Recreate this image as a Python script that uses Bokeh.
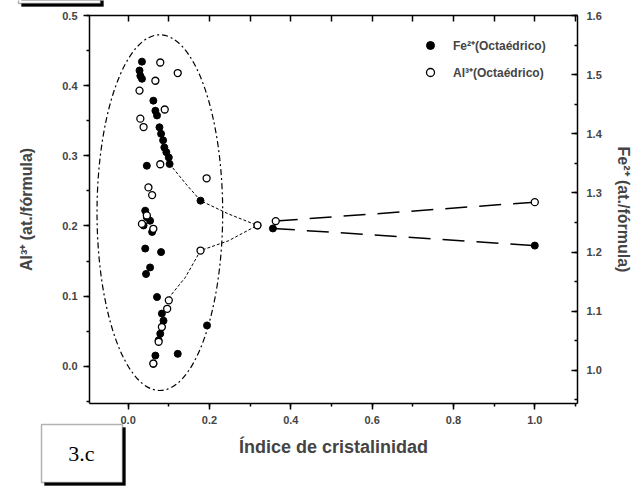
from bokeh.plotting import figure
from bokeh.models import (Range1d, LinearAxis, Label, Legend, LegendItem,
                          BoxAnnotation, SingleIntervalTicker,
                          NumeralTickFormatter)
from bokeh.embed import file_html
from bokeh.resources import INLINE

# Fe2+ (right axis) against crystallinity index
fe_x = [0.034, 0.028, 0.030, 0.034, 0.062, 0.067, 0.071, 0.077, 0.081, 0.086,
        0.089, 0.094, 0.100, 0.102, 0.046, 0.178, 0.042, 0.046, 0.054, 0.038,
        0.059, 0.042, 0.081, 0.054, 0.044, 0.071, 0.083, 0.087, 0.079, 0.075,
        0.067, 0.062, 0.122, 0.194, 0.318, 0.356, 1.000]
fe_y = [1.522, 1.507, 1.498, 1.493, 1.456, 1.439, 1.431, 1.411, 1.400, 1.389,
        1.377, 1.369, 1.360, 1.349, 1.346, 1.287, 1.270, 1.259, 1.253, 1.245,
        1.234, 1.206, 1.200, 1.174, 1.163, 1.124, 1.096, 1.084, 1.062, 1.051,
        1.025, 1.011, 1.028, 1.076, 1.245, 1.240, 1.211]

# Al3+ (left axis) against crystallinity index
al_x = [0.079, 0.122, 0.067, 0.028, 0.090, 0.030, 0.038, 0.079, 0.193, 0.050,
        0.059, 0.046, 0.034, 0.062, 0.100, 0.096, 0.083, 0.075, 0.062, 0.178,
        0.318, 0.363, 1.000]
al_y = [0.433, 0.418, 0.407, 0.393, 0.366, 0.353, 0.341, 0.288, 0.268, 0.255,
        0.244, 0.215, 0.203, 0.196, 0.094, 0.082, 0.056, 0.035, 0.004, 0.165,
        0.201, 0.207, 0.234]

# trend curves out of the cluster
fe_trend_x = [0.102, 0.141, 0.178, 0.245, 0.318]
fe_trend_y = [1.349, 1.316, 1.287, 1.265, 1.245]
al_trend_x = [0.099, 0.141, 0.178, 0.247, 0.318]
al_trend_y = [0.097, 0.127, 0.165, 0.179, 0.201]

# dashed tails towards the most crystalline sample
fe_tail_x = [0.356, 1.000]
fe_tail_y = [1.240, 1.211]
al_tail_x = [0.363, 1.000]
al_tail_y = [0.207, 0.234]

# ellipse enclosing the poorly crystalline cluster (left-axis units)
cluster_x, cluster_y = [0.078], [0.219]
cluster_w, cluster_h = [0.309], [0.507]

# axis extents
x_lo, x_hi = -0.095, 1.105
al_lo, al_hi = -0.053, 0.5
fe_lo, fe_hi = 0.944, 1.6

FONT = "Liberation Sans"
W, H = 640, 488
# box of the axes inside the canvas (pixels): left, right, top, bottom
BL, BR, BT, BB = 89, 577, 15, 403

def widen(lo, hi, before, after, span):
    per_px = (hi - lo) / span
    return lo - before * per_px, hi + after * per_px

# the frame fills the canvas; the axes sit at fixed data locations so the
# tag boxes outside the axes can be drawn with ordinary annotations
x_range = Range1d(*widen(x_lo, x_hi, BL, W - BR, BR - BL))
al_range = Range1d(*widen(al_lo, al_hi, H - BB, BT, BB - BT))
fe_range = Range1d(*widen(fe_lo, fe_hi, H - BB, BT, BB - BT))

p = figure(width=W, height=H, output_backend="svg", toolbar_location=None,
           x_range=x_range, y_range=al_range, min_border=0,
           title_location=None)
p.extra_y_ranges = {"fe": fe_range}
p.xaxis.visible = False
p.yaxis.visible = False
p.xgrid.visible = False
p.ygrid.visible = False
p.outline_line_color = None
p.background_fill_color = "white"
p.border_fill_color = "white"

def style(ax, label_size):
    ax.axis_line_width = 1.5
    ax.axis_line_color = "black"
    ax.major_tick_line_width = 1.5
    ax.minor_tick_line_width = 1.5
    ax.major_label_text_font = FONT
    ax.major_label_text_font_size = "11px"
    ax.major_label_text_font_style = "bold"
    ax.axis_label_text_font = FONT
    ax.axis_label_text_font_size = label_size
    ax.axis_label_text_font_style = "bold"

xa = LinearAxis(fixed_location=al_lo, bounds=(x_lo, x_hi),
                ticker=SingleIntervalTicker(interval=0.2, num_minor_ticks=2),
                formatter=NumeralTickFormatter(format="0.0"),
                axis_label="Índice de cristalinidad",
                major_tick_out=6, major_tick_in=0,
                minor_tick_out=3, minor_tick_in=0)
style(xa, "18px")
xa.major_label_standoff = 6
xa.axis_label_standoff = 10
p.add_layout(xa, "below")

ya = LinearAxis(fixed_location=x_lo, bounds=(al_lo, al_hi),
                ticker=SingleIntervalTicker(interval=0.1, num_minor_ticks=2),
                formatter=NumeralTickFormatter(format="0.0"),
                axis_label="Al³⁺ (at./fórmula)",
                major_tick_out=6, major_tick_in=0,
                minor_tick_out=3, minor_tick_in=0)
style(ya, "16px")
ya.major_label_standoff = 6
ya.axis_label_standoff = 24
p.add_layout(ya, "left")

# top edge: a downward-facing axis pinned at the upper bound, tick marks only
top = LinearAxis(fixed_location=al_hi, bounds=(x_lo, x_hi),
                 ticker=SingleIntervalTicker(interval=0.1, num_minor_ticks=0),
                 major_tick_in=0, major_tick_out=6,
                 minor_tick_in=0, minor_tick_out=0)
style(top, "11px")
top.major_label_text_color = None
p.add_layout(top, "below")

right = LinearAxis(fixed_location=x_hi, bounds=(fe_lo, fe_hi),
                   y_range_name="fe",
                   ticker=SingleIntervalTicker(interval=0.1, num_minor_ticks=2),
                   formatter=NumeralTickFormatter(format="0.0"),
                   axis_label="Fe²⁺ (at./fórmula)",
                   major_tick_in=6, major_tick_out=0,
                   minor_tick_in=3, minor_tick_out=0)
style(right, "16px")
right.major_label_standoff = 9
right.axis_label_standoff = 10
p.add_layout(right, "right")

# cluster outline
p.ellipse(x=cluster_x, y=cluster_y, width=cluster_w, height=cluster_h,
          fill_color=None, line_color="black", line_width=1.2,
          line_dash="6 3 2 3")

# trends
p.line(fe_trend_x, fe_trend_y, y_range_name="fe", line_color="black",
       line_width=1, line_dash="3 2")
p.line(al_trend_x, al_trend_y, line_color="black", line_width=1,
       line_dash="3 2")
p.line(fe_tail_x, fe_tail_y, y_range_name="fe", line_color="black",
       line_width=1.5, line_dash="22 12")
p.line(al_tail_x, al_tail_y, line_color="black", line_width=1.5,
       line_dash="22 12")

fe_r = p.scatter(fe_x, fe_y, y_range_name="fe", marker="circle", size=7,
                 fill_color="black", line_color="black")
al_r = p.scatter(al_x, al_y, marker="circle", size=7, fill_color="white",
                 line_color="black", line_width=1.3)

legend = Legend(items=[LegendItem(label="Fe²⁺(Octaédrico)", renderers=[fe_r]),
                       LegendItem(label="Al³⁺(Octaédrico)", renderers=[al_r])],
                location=(420, H - 82), padding=0, margin=0, spacing=7,
                label_height=20, glyph_width=20, glyph_height=20,
                label_standoff=13, border_line_color=None,
                background_fill_alpha=0, label_text_font=FONT,
                label_text_font_size="12px", label_text_font_style="bold")
p.add_layout(legend, "center")

# framed tag boxes with drop shadows (screen px, measured up from the bottom)
def framed_box(left, right_, top_, bottom):
    p.add_layout(BoxAnnotation(left=left + 3, right=right_ + 3,
                               top=top_ - 3, bottom=bottom - 3,
                               left_units="screen", right_units="screen",
                               top_units="screen", bottom_units="screen",
                               fill_color="black", fill_alpha=1,
                               line_color="black"))
    p.add_layout(BoxAnnotation(left=left, right=right_, top=top_,
                               bottom=bottom,
                               left_units="screen", right_units="screen",
                               top_units="screen", bottom_units="screen",
                               fill_color="white", fill_alpha=1,
                               line_color="black", line_width=1.5))

framed_box(18, 100, H + 20, H - 3)
framed_box(41, 122, H - 424, H - 482)
p.add_layout(Label(x=81, y=H - 453, x_units="screen", y_units="screen",
                   text="3.c", text_align="center", text_baseline="middle",
                   text_font="Liberation Serif", text_font_size="22px",
                   text_color="black"))

open("out.html", "w").write(file_html(p, INLINE))
